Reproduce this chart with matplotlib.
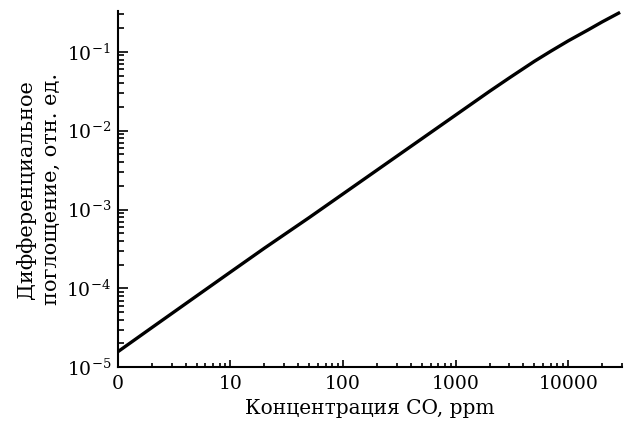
import numpy as np
import matplotlib.pyplot as plt
from matplotlib.ticker import FixedLocator, FixedFormatter, LogLocator, NullFormatter

plt.rcParams['font.family'] = ['DejaVu Serif']
plt.rcParams['mathtext.fontset'] = 'dejavuserif'

# concentration (axis value, "0" drawn at 1) and differential absorption
conc = [1, 2, 5, 10, 20, 50, 100, 200, 500, 1000, 2000, 3000, 5000, 7000,
        10000, 15000, 20000, 28000]
absorb = [1.57e-5, 3.17e-5, 8.0e-5, 1.61e-4, 3.23e-4, 7.9e-4, 1.58e-3, 3.16e-3,
          7.9e-3, 0.0158, 0.0316, 0.0468, 0.0759, 0.102, 0.138, 0.19, 0.24, 0.31]

x_ticks = [1, 10, 100, 1000, 10000]
x_labels = ["0", "10", "100", "1000", "10000"]
y_ticks = [1e-5, 1e-4, 1e-3, 1e-2, 1e-1]
y_labels = [r"$10^{-5}$", r"$10^{-4}$", r"$10^{-3}$", r"$10^{-2}$", r"$10^{-1}$"]

fig = plt.figure(figsize=(6.27, 4.23), dpi=100)
ax = fig.add_axes([0.188, 0.132, 0.804, 0.842])

ax.plot(conc, absorb, color='black', linewidth=2.4)
ax.set_xscale('log')
ax.set_yscale('log')
ax.set_xlim(1, 30000)
ax.set_ylim(1e-5, 0.33)

ax.xaxis.set_major_locator(FixedLocator(x_ticks))
ax.xaxis.set_major_formatter(FixedFormatter(x_labels))
ax.xaxis.set_minor_locator(LogLocator(base=10, subs=np.arange(2, 10)))
ax.xaxis.set_minor_formatter(NullFormatter())
ax.yaxis.set_major_locator(FixedLocator(y_ticks))
ax.yaxis.set_major_formatter(FixedFormatter(y_labels))
ax.yaxis.set_minor_locator(LogLocator(base=10, subs=np.arange(2, 10)))
ax.yaxis.set_minor_formatter(NullFormatter())

for s in ['top', 'right']:
    ax.spines[s].set_visible(False)
for s in ['left', 'bottom']:
    ax.spines[s].set_linewidth(1.5)

ax.tick_params(axis='both', which='both', direction='in', labelsize=13.5, width=1.2)
ax.tick_params(axis='y', which='major', length=7, pad=5)
ax.tick_params(axis='y', which='minor', length=4)
ax.tick_params(axis='x', which='major', length=5, pad=6)
ax.tick_params(axis='x', which='minor', length=3)

ax.set_xlabel("Концентрация CO, ppm", fontsize=14.5, labelpad=4)
ax.set_ylabel("Дифференциальное\nпоглощение, отн. ед.", fontsize=15,
              labelpad=4, linespacing=1.35)

fig.savefig("out.png", dpi=100)
